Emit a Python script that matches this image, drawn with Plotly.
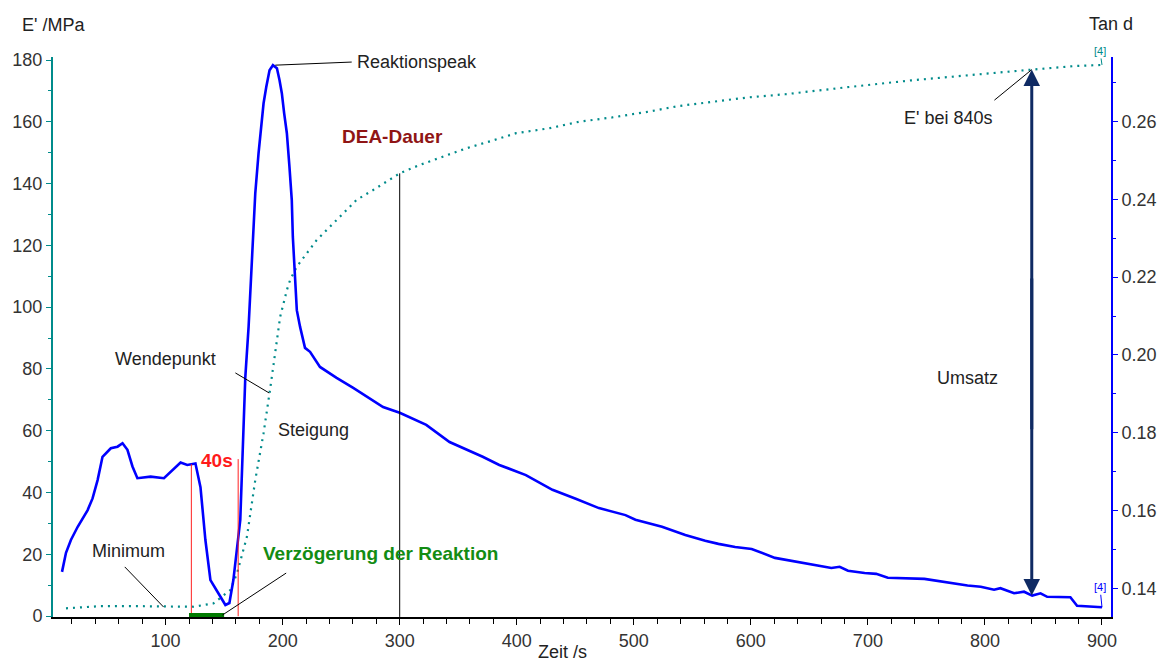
import numpy as np
import plotly.graph_objects as go

# Tan d (right axis) over time
time_tan = [11.5, 14.9, 19.1, 24.9, 33.4, 37.6, 41.9, 46.1, 53.2, 58.9,
            63.2, 67.4, 71.7, 75.9, 87.2, 98.6, 112.8, 118.5, 125.5, 129.8,
            134.0, 138.3, 144.3, 151.1, 154.5, 157.9, 163.8, 168.1, 170.9, 172.9,
            175.1, 176.6, 179.4, 181.4, 183.7, 186.0, 188.8, 191.7, 195.1, 197.3,
            199.3, 201.3, 203.6, 205.8, 207.8, 208.7, 210.6, 212.1, 214.9, 217.7,
            219.1, 223.4, 231.9, 246.1, 260.3, 285.8, 300.0, 322.7, 342.6, 370.9,
            385.1, 407.8, 430.5, 450.4, 470.2, 492.9, 501.4, 524.1, 544.0, 561.0,
            572.3, 586.6, 600.7, 620.6, 640.4, 654.6, 668.8, 675.9, 683.0, 697.2,
            707.1, 717.0, 748.3, 785.1, 796.4, 807.8, 813.2, 824.9, 833.4, 840.4,
            847.5, 853.2, 873.0, 878.7, 900.0]
tan_d = [0.1442, 0.1491, 0.1524, 0.1558, 0.1601, 0.1631, 0.1678, 0.1738, 0.1760, 0.1764,
         0.1773, 0.1756, 0.1713, 0.1683, 0.1687, 0.1683, 0.1723, 0.1717, 0.1721, 0.1660,
         0.1524, 0.1421, 0.1391, 0.1357, 0.1362, 0.1421, 0.1576, 0.1943, 0.2072, 0.2201,
         0.2330, 0.2415, 0.2518, 0.2587, 0.2647, 0.2689, 0.2732, 0.2745, 0.2737, 0.2707,
         0.2673, 0.2621, 0.2570, 0.2484, 0.2398, 0.2304, 0.2201, 0.2115, 0.2072, 0.2030,
         0.2018, 0.2008, 0.1969, 0.1941, 0.1915, 0.1866, 0.1851, 0.1820, 0.1776, 0.1738,
         0.1717, 0.1691, 0.1653, 0.1630, 0.1606, 0.1588, 0.1576, 0.1558, 0.1537, 0.1522,
         0.1514, 0.1506, 0.1501, 0.1478, 0.1468, 0.1460, 0.1452, 0.1455, 0.1445, 0.1439,
         0.1437, 0.1427, 0.1424, 0.1407, 0.1404, 0.1396, 0.1400, 0.1387, 0.1391, 0.1381,
         0.1387, 0.1378, 0.1377, 0.1355, 0.1351]

# Storage modulus E' (left axis) over time
time_e = [14.9, 44.7, 72.8, 98.3, 123.8, 140.9, 155.3, 161.0, 169.5, 176.6,
          183.7, 189.4, 196.4, 197.9, 203.6, 206.4, 212.1, 229.1, 246.1, 263.1,
          277.3, 295.7, 300.0, 317.0, 334.0, 356.8, 380.9, 399.3, 427.7, 453.2,
          481.5, 512.8, 538.3, 569.5, 597.9, 629.1, 654.6, 680.2, 736.9, 793.6,
          840.4, 878.7, 900.0]
e_mod = [2.5, 3.2, 3.2, 3.0, 3.0, 4.1, 8.4, 13.8, 25.7, 44.0,
         59.2, 73.7, 92.6, 96.9, 105.5, 108.8, 113.1, 121.7, 128.2, 134.7,
         137.9, 142.2, 143.3, 146.0, 148.2, 151.4, 154.1, 156.3, 157.9, 160.0,
         161.4, 163.3, 165.1, 166.5, 167.9, 168.9, 170.1, 171.1, 173.4, 175.4,
         176.9, 178.1, 178.4]

# Characteristic times (s)
t_dea = 300
t_delay_start, t_delay_end = 122, 162
t_green = [120, 150]
t_conv = 840

FONT = "Liberation Sans, Arial, sans-serif"
TEAL = "#008b8b"
BLUE = "#0000ff"
NAVY = "#0f2a63"
TXT = "#222222"

fig = go.Figure()
fig.add_trace(go.Scatter(x=time_e, y=e_mod, mode="lines", yaxis="y",
                         line=dict(color=TEAL, width=2.2, dash="2px,5px"),
                         hoverinfo="skip"))
fig.add_trace(go.Scatter(x=time_tan, y=tan_d, mode="lines", yaxis="y2",
                         line=dict(color=BLUE, width=2.6),
                         hoverinfo="skip"))

e_at_dea = float(np.interp(t_dea, time_e, e_mod))
e_at_conv = float(np.interp(t_conv, time_e, e_mod))
tan_at_conv = float(np.interp(t_conv, time_tan, tan_d))
i_peak = int(np.argmax(tan_d))
t_peak, tan_peak = time_tan[i_peak], tan_d[i_peak]
tan_at_delay = float(np.interp(t_delay_start, time_tan, tan_d))

shapes = [
    # DEA duration marker
    dict(type="line", xref="x", yref="y", x0=t_dea, x1=t_dea, y0=-0.3, y1=e_at_dea,
         line=dict(color="black", width=1)),
    # 40 s delay window
    dict(type="line", xref="x", yref="y2", x0=t_delay_start, x1=t_delay_start,
         y0=0.1328, y1=tan_at_delay, line=dict(color="#ff2020", width=1)),
    dict(type="line", xref="x", yref="y2", x0=t_delay_end, x1=t_delay_end,
         y0=0.1328, y1=0.1732, line=dict(color="#ff2020", width=1)),
    # reaction delay bar on the time axis
    dict(type="line", xref="x", yref="y", x0=t_green[0], x1=t_green[1], y0=0, y1=0,
         line=dict(color="#007a00", width=6), layer="above"),
    # callout leaders
    dict(type="line", xref="x", yref="y2", x0=t_peak + 2, x1=259, y0=tan_peak, y1=0.2753,
         line=dict(color="black", width=1)),
    dict(type="line", xref="x", yref="y", x0=159.6, x1=188.5, y0=78.7, y1=72.2,
         line=dict(color="black", width=1)),
    dict(type="line", xref="x", yref="y", x0=65.1, x1=98.3, y0=15.9, y1=2.9,
         line=dict(color="black", width=1)),
    dict(type="line", xref="x", yref="y", x0=148.5, x1=203.0, y0=0.3, y1=13.9,
         line=dict(color="black", width=1)),
    dict(type="line", xref="x", yref="y", x0=808.1, x1=t_conv, y0=167.0, y1=e_at_conv,
         line=dict(color="black", width=1)),
]

def label(text, x, y, color=TXT, size=18, bold=False, xanchor="center"):
    return dict(text=f"<b>{text}</b>" if bold else text, x=x, y=y, xref="x", yref="y",
                showarrow=False, xanchor=xanchor, yanchor="middle",
                font=dict(family=FONT, size=size, color=color))

annotations = [
    label("Reaktionspeak", 261.7, 179.3, xanchor="left"),
    label("DEA-Dauer", 294.0, 155.2, color="#8f1515", size=19, bold=True),
    label("Wendepunkt", 99.6, 83.2),
    label("Steigung", 226.0, 60.2),
    label("40s", 144.3, 50.2, color="#ff1a1a", size=19, bold=True),
    label("Minimum", 68.5, 21.0),
    label("Verzögerung der Reaktion", 283.4, 20.1, color="#138c13", size=19, bold=True),
    label("E' bei 840s", 769.0, 161.2),
    label("Umsatz", 785.1, 77.0),
    # conversion double arrow at 840 s
    dict(x=t_conv, y=e_at_conv, xref="x", yref="y", ax=t_conv, ay=60, axref="x", ayref="y",
         showarrow=True, arrowhead=2, arrowsize=1.1, arrowwidth=3, arrowcolor=NAVY, text=""),
    dict(x=t_conv, y=tan_at_conv, xref="x", yref="y2", ax=t_conv, ay=0.22, axref="x", ayref="y2",
         showarrow=True, arrowhead=2, arrowsize=1.1, arrowwidth=3, arrowcolor=NAVY, text=""),
    # curve end tags
    dict(x=time_e[-1], y=e_mod[-1], xref="x", yref="y", ax=-2, ay=-14, text="[4]",
         showarrow=True, arrowhead=0, arrowwidth=1, arrowcolor=TEAL,
         font=dict(family=FONT, size=11, color=TEAL)),
    dict(x=time_tan[-1], y=tan_d[-1], xref="x", yref="y2", ax=-2, ay=-20, text="[4]",
         showarrow=True, arrowhead=0, arrowwidth=1, arrowcolor=BLUE,
         font=dict(family=FONT, size=11, color=BLUE)),
    # axis titles
    dict(text="E' /MPa", x=0.0, y=1.057, xref="paper", yref="paper", showarrow=False,
         xanchor="center", yanchor="middle", font=dict(family=FONT, size=18, color=TXT)),
    dict(text="Tan d", x=1.0, y=1.059, xref="paper", yref="paper", showarrow=False,
         xanchor="center", yanchor="middle", font=dict(family=FONT, size=18, color=TXT)),
    dict(text="Zeit /s", x=0.482, y=-0.062, xref="paper", yref="paper", showarrow=False,
         xanchor="center", yanchor="middle", font=dict(family=FONT, size=18, color=TXT)),
]

tickfont = dict(family=FONT, size=18, color="#333333")

fig.update_layout(
    width=1169, height=663,
    margin=dict(l=52, r=55, t=57, b=46),
    paper_bgcolor="white", plot_bgcolor="white",
    showlegend=False,
    shapes=shapes,
    annotations=annotations,
    xaxis=dict(range=[3.8, 907.7], tick0=0, dtick=100, showgrid=False, zeroline=False,
               showline=True, linecolor="black", linewidth=2,
               ticks="outside", ticklen=6, tickcolor="black", tickwidth=1,
               minor=dict(dtick=20, ticks="outside", ticklen=5, tickcolor="black"),
               tickfont=tickfont),
    yaxis=dict(range=[-0.32, 180.97], tick0=0, dtick=20, showgrid=False, zeroline=False,
               showline=True, linecolor=TEAL, linewidth=2,
               ticks="outside", ticklen=5, tickcolor=TEAL, tickwidth=1,
               minor=dict(dtick=10, ticks="outside", ticklen=3, tickcolor=TEAL),
               tickfont=tickfont),
    yaxis2=dict(range=[0.1326, 0.2766], tick0=0.14, dtick=0.02, tickformat=".2f",
                overlaying="y", side="right", showgrid=False, zeroline=False,
                showline=True, linecolor=BLUE, linewidth=2,
                ticks="outside", ticklen=5, tickcolor=BLUE, tickwidth=1,
                minor=dict(dtick=0.01, ticks="outside", ticklen=3, tickcolor=BLUE),
                tickfont=tickfont),
)

fig.write_html("out.html", config={"displayModeBar": False})
